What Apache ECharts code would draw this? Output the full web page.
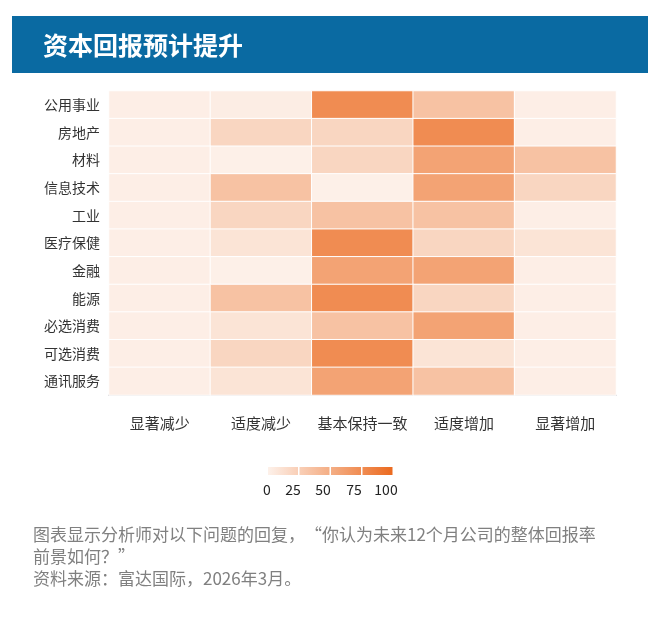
<!DOCTYPE html>
<html>
<head>
<meta charset="utf-8">
<script src="https://cdn.jsdelivr.net/npm/echarts@6/dist/echarts.min.js"></script>
<style>
html,body{margin:0;padding:0;background:#fff;}
#main{width:661px;height:631px;}
</style>
</head>
<body>
<div id="main"></div>
<script>
const sectors = ['公用事业','房地产','材料','信息技术','工业','医疗保健','金融','能源','必选消费','可选消费','通讯服务'];
const responses = ['显著减少','适度减少','基本保持一致','适度增加','显著增加'];
// values per sector, columns in order of responses
const 公用事业 = [2, 3, 75, 35, 2];
const 房地产 = [2, 20, 20, 75, 2];
const 材料 = [2, 1, 20, 58, 35];
const 信息技术 = [2, 35, 1, 58, 20];
const 工业 = [2, 20, 35, 35, 2];
const 医疗保健 = [2, 10, 75, 20, 10];
const 金融 = [2, 1, 58, 58, 2];
const 能源 = [2, 35, 75, 20, 2];
const 必选消费 = [2, 10, 35, 58, 2];
const 可选消费 = [2, 20, 75, 10, 2];
const 通讯服务 = [2, 10, 58, 35, 2];
const rows = [公用事业, 房地产, 材料, 信息技术, 工业, 医疗保健, 金融, 能源, 必选消费, 可选消费, 通讯服务];
const legendTicks = ['0','25','50','75','100'];
const titleText = '资本回报预计提升';
const noteLines = ['图表显示分析师对以下问题的回复，“你认为未来12个月公司的整体回报率', '前景如何？”', '资料来源：富达国际，2026年3月。'];

const data = [];
rows.forEach((r, yi) => r.forEach((v, xi) => data.push([xi, yi, v])));

const FONT = '"Noto Sans CJK SC","Noto Sans",sans-serif';
const cMin = '#fdf1ea', cMax = '#eb6a1f';

const chart = echarts.init(document.getElementById('main'), null, {renderer:'canvas'});

const graphics = [
  {type:'rect', left:12, top:16, shape:{width:636, height:57}, style:{fill:'#0a6aa2'}, z:0}
];
const lx0 = 268, lw = 30, lgap = 1.5, ly = 467, lh = 8;
for (let i = 0; i < 4; i++) {
  const t0 = i/4, t1 = (i+1)/4;
  const c0 = echarts.color.lerp(t0, [cMin, cMax]);
  const c1 = echarts.color.lerp(t1, [cMin, cMax]);
  graphics.push({type:'rect', left: lx0 + i*(lw+lgap), top: ly, shape:{width:lw, height:lh},
    style:{fill: new echarts.graphic.LinearGradient(0,0,1,0,[{offset:0,color:c0},{offset:1,color:c1}])}});
}
const tickX = [267, 293, 323, 354, 386];
legendTicks.forEach((t, i) => {
  graphics.push({type:'text', x: tickX[i], y: 490, style:{text:t, fill:'#222', font:'14px '+FONT, align:'center', verticalAlign:'middle'}});
});
noteLines.forEach((t, i) => {
  graphics.push({type:'text', x: 33, y: 535 + i*22, style:{text:t, fill:'#808080', font:'17px '+FONT, align:'left', verticalAlign:'middle'}});
});

chart.setOption({
  animation:false,
  textStyle:{fontFamily:FONT},
  title:{text:titleText, left:38, top:28, textStyle:{color:'#fff', fontSize:25, fontWeight:'bold', fontFamily:FONT}},
  grid:{left:109, right:45, top:91, bottom:236},
  xAxis:{type:'category', data:responses, splitArea:{show:false},
    axisLine:{show:true, lineStyle:{color:'#c8c8cc', width:2}}, axisTick:{show:false},
    axisLabel:{color:'#333', fontSize:15, margin:21, interval:0, fontFamily:FONT}},
  yAxis:{type:'category', data:sectors, inverse:true,
    axisLine:{show:false}, axisTick:{show:false},
    axisLabel:{color:'#333', fontSize:14, margin:9, interval:0, fontFamily:FONT}},
  visualMap:{show:false, type:'continuous', min:0, max:100, dimension:2, inRange:{color:[cMin, cMax]}},
  series:[{type:'heatmap', data:data, itemStyle:{borderColor:'#fff', borderWidth:1}, label:{show:false}}],
  graphic:graphics
});
</script>
</body>
</html>
